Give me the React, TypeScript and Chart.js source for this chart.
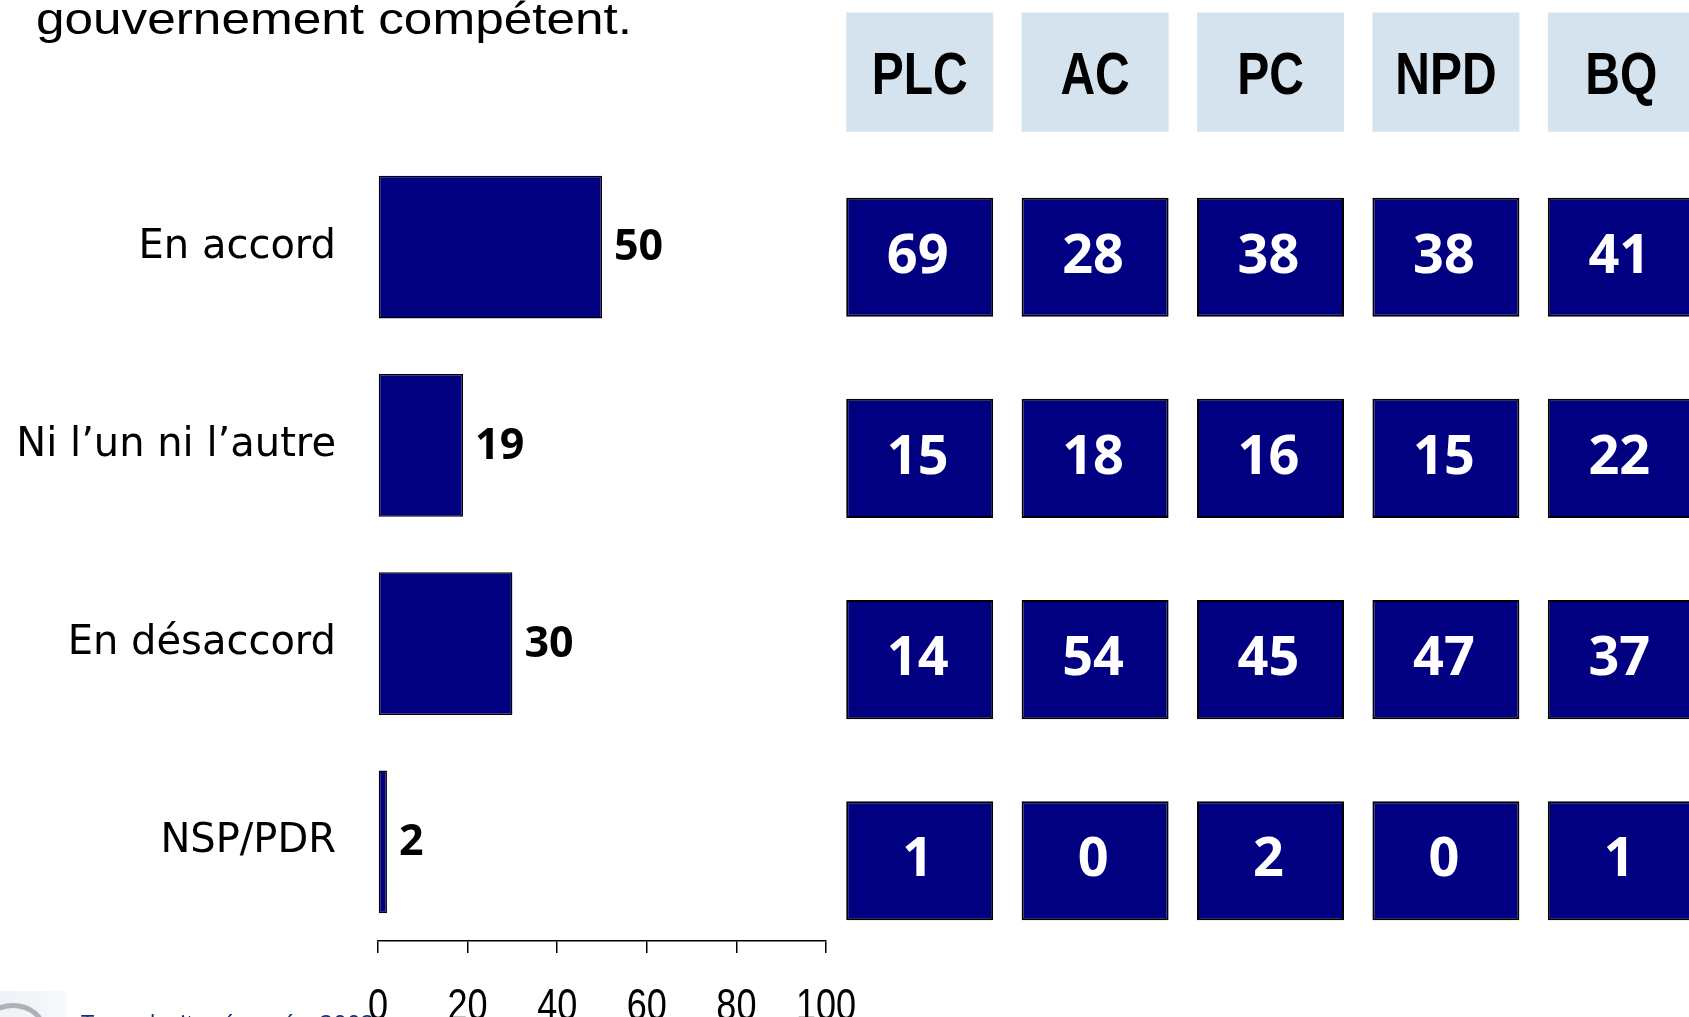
import React, { useEffect, useRef } from 'react';
import { Chart, registerables } from 'chart.js';

Chart.register(...registerables);

// ---- data ----
const categories = ['En accord', 'Ni l\u2019un ni l\u2019autre', 'En d\u00e9saccord', 'NSP/PDR'];
const totalValues = [50, 19, 30, 2];
const parties = ['PLC', 'AC', 'PC', 'NPD', 'BQ'];
const plcValues = [69, 15, 14, 1];
const acValues = [28, 18, 54, 0];
const pcValues = [38, 16, 45, 2];
const npdValues = [38, 15, 47, 0];
const bqValues = [41, 22, 37, 1];
const xTicks = [0, 20, 40, 60, 80, 100];
const titleText = 'gouvernement comp\u00e9tent.';
const footerText = 'Tous droits r\u00e9serv\u00e9s, 2002';

const partyValues = [plcValues, acValues, pcValues, npdValues, bqValues];

const NAVY = '#000080';
const HEADER_BG = '#D4E3EE';

const leftLabelsPlugin = {
  id: 'leftLabels',
  afterDatasetsDraw(chart: any) {
    const ctx = chart.ctx;
    const meta = chart.getDatasetMeta(0);
    ctx.save();
    ctx.fillStyle = '#000';
    ctx.font = 'bold 43px "Open Sans"';
    ctx.textAlign = 'left';
    ctx.textBaseline = 'middle';
    meta.data.forEach((el: any, i: number) => {
      ctx.fillText(String(totalValues[i]), el.x + 12, el.y + 1);
    });
    ctx.restore();
  },
  afterDraw(chart: any) {
    const ctx = chart.ctx;
    const xs = chart.scales.x;
    ctx.save();
    ctx.fillStyle = '#000';
    ctx.font = '44px "Liberation Sans"';
    ctx.textAlign = 'center';
    ctx.textBaseline = 'alphabetic';
    xTicks.forEach((v) => {
      const px = xs.getPixelForValue(v);
      ctx.save();
      ctx.translate(px, 1020);
      ctx.scale(0.82, 1);
      ctx.fillText(String(v), 0, 0);
      ctx.restore();
    });
    ctx.restore();
  },
};

const HALF = 0.296;
const HEADER_ROW = 0.08;

const rightLabelsPlugin = {
  id: 'rightLabels',
  afterDatasetsDraw(chart: any) {
    const ctx = chart.ctx;
    ctx.save();
    chart.data.datasets.forEach((ds: any, di: number) => {
      const meta = chart.getDatasetMeta(di);
      meta.data.forEach((el: any, pi: number) => {
        const cx = el.x;
        const cy = (el.y + el.base) / 2;
        if (ds.isHeader) {
          ctx.fillStyle = '#000';
          ctx.font = 'bold 60px "Liberation Sans"';
          ctx.textAlign = 'center';
          ctx.textBaseline = 'alphabetic';
          ctx.save();
          ctx.translate(cx, cy + 22);
          ctx.scale(0.8, 1);
          ctx.fillText(parties[pi], 0, 0);
          ctx.restore();
        } else {
          ctx.fillStyle = '#fff';
          ctx.font = 'bold 54px "Open Sans"';
          ctx.textAlign = 'center';
          ctx.textBaseline = 'middle';
          ctx.fillText(String(ds.values[pi]), cx - 2, cy);
        }
      });
    });
    ctx.restore();
  },
};

const LEFT_W = 880;

function LeftChart() {
  const ref = useRef<HTMLCanvasElement>(null);
  useEffect(() => {
    const chart = new Chart(ref.current!, {
      type: 'bar',
      data: {
        labels: categories,
        datasets: [
          {
            data: totalValues,
            backgroundColor: NAVY,
            borderColor: '#000',
            borderWidth: 1.5,
            borderSkipped: false,
            barPercentage: 0.72,
            categoryPercentage: 1,
          },
        ],
      },
      options: {
        indexAxis: 'y',
        animation: false,
        responsive: false,
        layout: { padding: { top: 148, right: LEFT_W - 826, left: 0, bottom: 0 } },
        plugins: { legend: { display: false }, tooltip: { enabled: false } },
        scales: {
          x: {
            type: 'linear',
            min: 0,
            max: 100,
            afterBuildTicks: (s: any) => {
              s.ticks = xTicks.map((v) => ({ value: v }));
            },
            afterFit: (s: any) => {
              s.height = 76;
              s.paddingLeft = 0;
              s.paddingRight = 0;
            },
            grid: {
              drawOnChartArea: false,
              drawTicks: true,
              tickLength: 12,
              color: '#000',
              lineWidth: 1.5,
            },
            border: { display: true, color: '#000', width: 1.5 },
            ticks: { display: false },
          },
          y: {
            type: 'category',
            afterFit: (s: any) => {
              s.width = 378;
            },
            grid: { display: false, drawTicks: false },
            border: { display: false },
            ticks: {
              color: '#000',
              padding: 42,
              font: { family: '"DejaVu Sans"', size: 40 },
            },
          },
        },
      },
      plugins: [leftLabelsPlugin],
    });
    return () => chart.destroy();
  }, []);
  return (
    <canvas
      ref={ref}
      width={LEFT_W}
      height={1017}
      style={{ position: 'absolute', left: 0, top: 0, width: LEFT_W, height: 1017 }}
    />
  );
}

function RightChart() {
  const ref = useRef<HTMLCanvasElement>(null);
  useEffect(() => {
    const datasets: any[] = [
      {
        isHeader: true,
        data: parties.map(() => [HEADER_ROW - HALF, HEADER_ROW + HALF]),
        backgroundColor: HEADER_BG,
        borderWidth: 0,
        grouped: false,
        barPercentage: 0.838,
        categoryPercentage: 1,
      },
    ];
    categories.forEach((_, r) => {
      datasets.push({
        values: partyValues.map((pv) => pv[r]),
        data: parties.map(() => [r + 1 - HALF, r + 1 + HALF]),
        backgroundColor: NAVY,
        borderColor: '#000',
        borderWidth: 2,
        borderSkipped: false,
        grouped: false,
        barPercentage: 0.838,
        categoryPercentage: 1,
      });
    });
    const H = 1017;
    const pitch = 201.2;
    const row0 = 56;
    const chart = new Chart(ref.current!, {
      type: 'bar',
      data: { labels: parties, datasets },
      options: {
        animation: false,
        responsive: false,
        layout: { padding: { top: 0, bottom: 0, left: 2, right: 11 } },
        plugins: { legend: { display: false }, tooltip: { enabled: false } },
        scales: {
          x: { type: 'category', display: false },
          y: {
            type: 'linear',
            display: false,
            reverse: true,
            min: -row0 / pitch,
            max: (H - row0) / pitch,
          },
        },
      },
      plugins: [rightLabelsPlugin],
    });
    return () => chart.destroy();
  }, []);
  return (
    <canvas
      ref={ref}
      width={890}
      height={1017}
      style={{ position: 'absolute', left: 830, top: 0, width: 890, height: 1017 }}
    />
  );
}

export default function App() {
  return (
    <div
      style={{
        position: 'fixed',
        left: 0,
        top: 0,
        width: 1689,
        height: 1017,
        overflow: 'hidden',
        background: '#fff',
      }}
    >
      <div
        style={{
          position: 'absolute',
          left: 36,
          top: -4,
          fontFamily: '"Liberation Sans"',
          fontSize: 45,
          lineHeight: '45px',
          whiteSpace: 'nowrap',
          transform: 'scaleX(1.14)',
          transformOrigin: 'left top',
          color: '#000',
        }}
      >
        {titleText}
      </div>
      <LeftChart />
      <RightChart />
      <div
        style={{
          position: 'absolute',
          left: 0,
          top: 991,
          width: 66,
          height: 40,
          background: 'linear-gradient(90deg, #eef2f6, #f7f9fb)',
          overflow: 'hidden',
        }}
      >
        <div
          style={{
            position: 'absolute',
            left: -20,
            top: 12,
            width: 56,
            height: 44,
            borderRadius: '50%',
            border: '5px solid #aab2bb',
            borderLeftColor: 'transparent',
            borderBottomColor: 'transparent',
          }}
        />
      </div>
      <div
        style={{
          position: 'absolute',
          left: 81,
          top: 1011,
          fontFamily: '"Open Sans"',
          fontSize: 24,
          lineHeight: '24px',
          whiteSpace: 'nowrap',
          color: '#1b2f6e',
        }}
      >
        {footerText}
      </div>
    </div>
  );
}
